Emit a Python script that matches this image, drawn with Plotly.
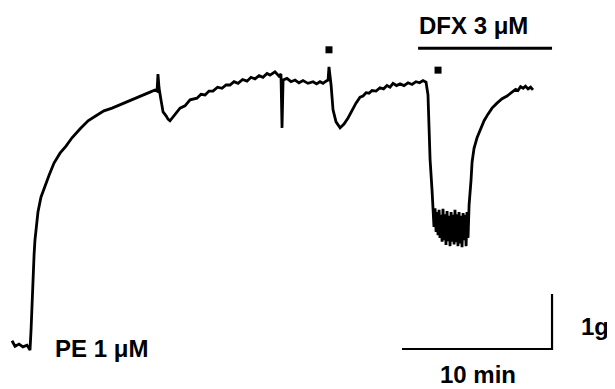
import plotly.graph_objects as go

# Isometric tension trace (time in min after PE, tension in g)
time_min = [
    -1.2, -1.0, -0.73, -0.47, -0.2, 0.0,
    0.07, 0.13, 0.2, 0.27, 0.33, 0.4, 0.53, 0.73, 1.0, 1.27, 1.6, 2.0, 2.4, 2.8,
    3.33, 3.87, 4.4, 4.93, 5.47, 6.0, 6.53, 7.07, 7.6, 8.0, 8.33, 8.47,
    8.53, 8.6, 8.73, 8.87, 9.07, 9.2, 9.33, 9.53, 9.73, 10.0, 10.33, 10.67,
    11.13, 11.4, 11.67, 11.93, 12.2, 12.5, 12.8, 13.07, 13.33, 13.6, 13.87,
    14.17, 14.47, 14.73, 15.0, 15.27, 15.53, 15.8, 16.0, 16.33, 16.6, 16.73,
    16.8, 16.87, 17.13, 17.4, 17.67, 17.93, 18.2, 18.53, 18.87, 19.1, 19.33,
    19.53, 19.73, 19.87,
    19.93, 20.07, 20.2, 20.4, 20.67, 20.93, 21.2, 21.47, 21.73, 22.0, 22.2,
    22.4, 22.6, 22.8, 23.07, 23.33, 23.57, 23.8, 24.0, 24.2, 24.43, 24.67,
    24.93, 25.2, 25.47, 25.73, 25.97, 26.2, 26.4,
    26.53, 26.6, 26.67, 26.8, 26.87,
    26.93, 27.0, 27.07, 27.13, 27.2, 27.27, 27.33, 27.4, 27.47, 27.53, 27.6,
    27.67, 27.73, 27.8, 27.87, 27.93, 28.0, 28.07, 28.13, 28.2, 28.27, 28.33,
    28.4, 28.47, 28.53, 28.6, 28.67, 28.73, 28.8, 28.87, 28.93, 29.0, 29.07,
    29.13, 29.2, 29.27, 29.33,
    29.4, 29.47, 29.6, 29.8, 30.0, 30.27, 30.53, 30.8, 31.13, 31.47, 31.8,
    32.0, 32.2, 32.37, 32.53, 32.7, 32.87, 33.03, 33.2, 33.37, 33.53,
]
tension_g = [
    0.15, 0.05, 0.09, 0.04, 0.07, -0.02,
    0.35, 0.89, 1.35, 1.71, 1.98, 2.2, 2.49, 2.76, 2.98, 3.16, 3.38, 3.56, 3.69, 3.84,
    4.0, 4.15, 4.24, 4.33, 4.38, 4.44, 4.49, 4.56, 4.62, 4.67, 4.71, 4.69,
    5.0, 4.75, 4.53, 4.31, 4.24, 4.18, 4.15, 4.22, 4.29, 4.38, 4.42, 4.53,
    4.56, 4.63, 4.62, 4.69, 4.69, 4.76, 4.74, 4.8, 4.8, 4.86, 4.83,
    4.9, 4.87, 4.94, 4.91, 4.97, 4.94, 5.01, 4.98, 5.04, 4.96, 5.0,
    4.02, 4.89, 4.92, 4.86, 4.89, 4.84, 4.88, 4.83, 4.86, 4.82, 4.86,
    4.83, 4.87, 4.89,
    5.13, 4.8, 4.35, 4.13, 4.02, 4.09, 4.2, 4.35, 4.47, 4.58, 4.6,
    4.66, 4.65, 4.7, 4.69, 4.75, 4.73, 4.79, 4.76, 4.83, 4.79, 4.82,
    4.79, 4.84, 4.81, 4.86, 4.84, 4.88, 4.85,
    4.62, 4.07, 3.44, 2.89, 2.62,
    2.22, 2.56, 2.13, 2.49, 2.07, 2.53, 2.02, 2.44, 1.95, 2.55, 1.98,
    2.45, 1.89, 2.51, 1.96, 2.42, 1.87, 2.49, 1.95, 2.44, 1.9, 2.53,
    1.94, 2.45, 1.87, 2.49, 1.92, 2.42, 1.85, 2.47, 1.98, 2.44, 1.87,
    2.49, 2.02, 2.62, 2.8,
    3.07, 3.4, 3.65, 3.84, 3.98, 4.15, 4.27, 4.38, 4.47, 4.55, 4.6,
    4.64, 4.67, 4.72, 4.7, 4.77, 4.74, 4.78, 4.73, 4.76, 4.71,
]

# Drug-addition markers (small squares)
marker_t = [19.93, 27.2]
marker_g = [5.44, 5.07]

# DFX application bar
dfx_bar_t = [25.87, 34.8]
dfx_bar_g = [5.47, 5.47]

# Scale bars: 10 min horizontal, 1 g vertical
scale_t = [24.8, 34.8, 34.8]
scale_g = [0.0, 0.0, 1.0]

labels = ["PE 1 μM", "DFX 3 μM", "1g", "10 min"]
label_t = [4.75, 29.55, 37.67, 29.87]
label_g = [0.0, 5.89, 0.4, -0.47]

fig = go.Figure()
fig.add_trace(go.Scatter(x=time_min, y=tension_g, mode="lines",
                         line=dict(color="black", width=2.8), hoverinfo="skip"))
fig.add_trace(go.Scatter(x=marker_t, y=marker_g, mode="markers",
                         marker=dict(symbol="square", size=7, color="black"), hoverinfo="skip"))
fig.add_trace(go.Scatter(x=dfx_bar_t, y=dfx_bar_g, mode="lines",
                         line=dict(color="black", width=3), hoverinfo="skip"))
fig.add_trace(go.Scatter(x=scale_t, y=scale_g, mode="lines",
                         line=dict(color="black", width=2.2), hoverinfo="skip"))

for txt, tx, ty in zip(labels, label_t, label_g):
    fig.add_annotation(x=tx, y=ty, xref="x", yref="y", text=f"<b>{txt}</b>",
                       showarrow=False,
                       font=dict(family="Liberation Sans, Arial, sans-serif", size=24, color="black"))

# page body has an 8px margin, so the plot area is offset by 8px right/down
fig.update_layout(
    width=615, height=389,
    margin=dict(l=0, r=0, t=0, b=0),
    paper_bgcolor="white", plot_bgcolor="white",
    showlegend=False,
    xaxis=dict(range=[-1.467, 39.53], visible=False, fixedrange=True),
    yaxis=dict(range=[-0.873, 6.2], visible=False, fixedrange=True),
)

fig.write_html("out.html")
